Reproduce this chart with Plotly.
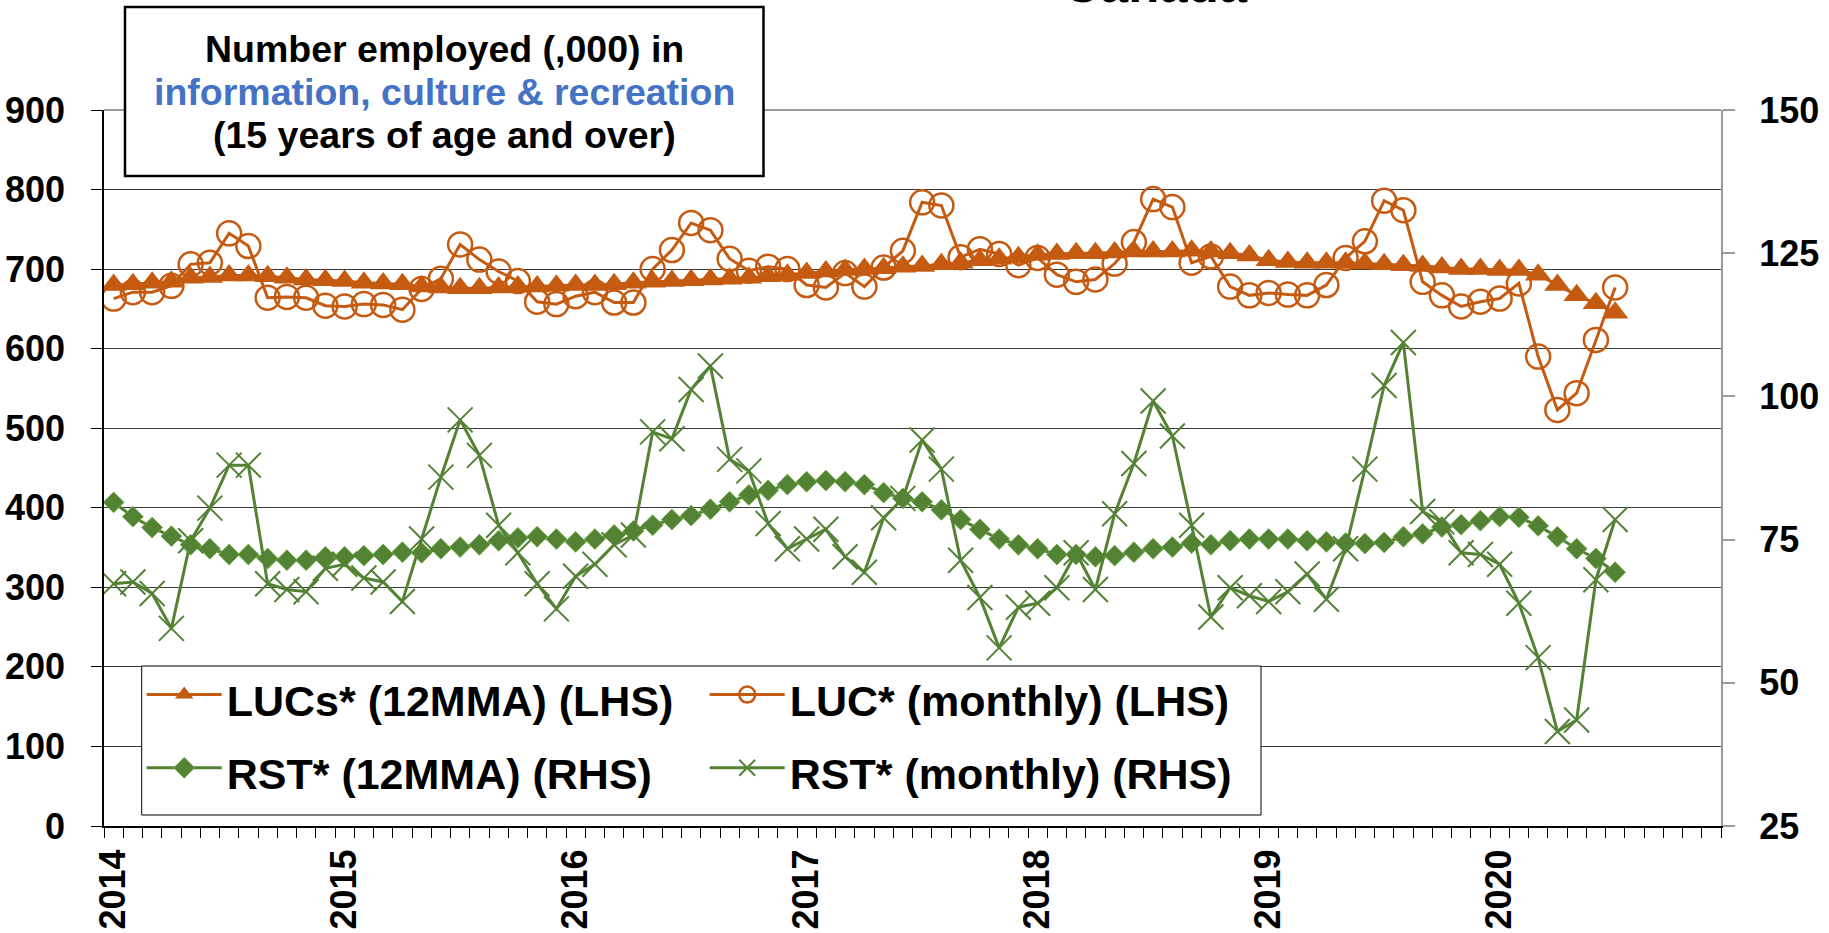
import pandas as pd
import plotly.graph_objects as go

# ---- data -------------------------------------------------------------
months = pd.period_range("2014-01", "2020-07", freq="M")
year_labels = ["2014", "2015", "2016", "2017", "2018", "2019", "2020"]

# LUCs* 12-month moving average (thousands, left axis)
luc_12mma = [
    680, 681, 683, 684, 689, 690, 692, 692, 691, 689, 687, 686,
    685, 683, 682, 681, 678, 677, 676, 676, 677, 678, 678, 679,
    680, 680, 681, 683, 684, 685, 686, 687, 688, 689, 691, 693,
    695, 697, 699, 700, 701, 703, 704, 706, 708, 711, 713, 715,
    718, 719, 720, 720, 721, 722, 722, 722, 723, 722, 720, 717,
    711, 709, 708, 708, 708, 707, 706, 705, 704, 702, 700, 700,
    699, 699, 693, 680, 667, 657, 645,
]
# LUC* monthly (thousands, left axis)
luc_monthly = [
    663, 671, 671, 679, 706, 708, 745, 729, 664, 665, 664, 654,
    653, 656, 655, 649, 675, 688, 731, 712, 697, 685, 659, 656,
    666, 671, 658, 658, 700, 724, 758, 749, 713, 698, 703, 700,
    680, 677, 695, 678, 702, 723, 784, 780, 715, 725, 719, 705,
    714, 693, 684, 687, 707, 734, 788, 778, 708, 716, 678, 667,
    670, 668, 667, 680, 714, 735, 786, 774, 684, 667, 653, 659,
    663, 682, 590, 523, 544, 611, 677,
]
# RST* 12-month moving average (thousands, right axis)
rst_12mma = [
    81.5, 79.0, 77.1, 75.6, 74.1, 73.4, 72.4, 72.4, 71.7, 71.4, 71.4, 72.0,
    72.0, 72.2, 72.4, 72.8, 72.7, 73.4, 73.7, 74.1, 74.8, 75.3, 75.5, 75.1,
    74.6, 75.1, 75.8, 76.5, 77.5, 78.5, 79.2, 80.3, 81.6, 82.8, 83.6, 84.6,
    85.1, 85.3, 85.1, 84.6, 83.2, 82.2, 81.6, 80.2, 78.5, 76.8, 75.1, 74.1,
    73.4, 72.4, 72.4, 72.0, 72.2, 72.8, 73.4, 73.7, 74.4, 74.1, 74.8, 75.1,
    75.1, 75.1, 74.8, 74.6, 74.4, 74.3, 74.5, 75.5, 76.0, 77.2, 77.6, 78.3,
    79.0, 78.9, 77.4, 75.5, 73.4, 71.7, 69.3,
]
# RST* monthly (thousands, right axis)
rst_monthly = [
    67.3, 67.6, 65.6, 59.5, 74.8, 80.5, 88.0, 88.0, 67.3, 66.3, 65.9, 70.0,
    70.7, 68.3, 67.6, 64.2, 75.1, 85.9, 95.9, 89.7, 77.5, 72.7, 67.3, 62.9,
    68.6, 70.7, 74.1, 75.8, 93.8, 92.6, 101.2, 105.3, 89.0, 87.0, 77.8, 73.4,
    75.1, 76.8, 72.0, 69.3, 78.8, 82.2, 92.4, 87.3, 71.4, 64.9, 56.1, 63.2,
    63.9, 66.6, 72.7, 66.3, 79.5, 88.3, 99.2, 93.1, 77.5, 61.5, 66.6, 65.2,
    64.2, 65.9, 69.0, 64.6, 73.4, 87.3, 101.9, 109.4, 79.9, 78.1, 72.7, 72.4,
    70.7, 63.9, 54.4, 41.5, 43.5, 68.0, 78.5,
]

# ---- positions on a monthly index axis (Jan 2014 = 0) --------------------
x = [(p.year - 2014) * 12 + p.month - 1 for p in months]
year_ticks = [(int(y) - 2014) * 12 for y in year_labels]

ORANGE = "#C55A11"
GREEN = "#548235"
FONT = "Liberation Sans, Arial, sans-serif"

# plot-area geometry (pixels) used to place boxes and text in paper units
W, H = 1829, 933
ML, MR, MT, MB = 104, 108, 110, 107
PW, PH = W - ML - MR, H - MT - MB


def px(xp):
    return (xp - ML) / PW


def py(yp):
    return (H - MB - yp) / PH


def legend_name(s):
    return f'<span style="font-size:43px">{s}</span>'


fig = go.Figure()

fig.add_trace(go.Scatter(
    x=x, y=luc_12mma, name=legend_name("LUCs* (12MMA) (LHS)"),
    mode="lines+markers",
    line=dict(color=ORANGE, width=3),
    marker=dict(symbol="triangle-up", size=23, color=ORANGE,
                line=dict(width=0)),
    yaxis="y",
))
fig.add_trace(go.Scatter(
    x=x, y=luc_monthly, name=legend_name("LUC* (monthly) (LHS)"),
    mode="lines+markers",
    line=dict(color=ORANGE, width=3),
    marker=dict(symbol="circle-open", size=24, color=ORANGE,
                line=dict(width=2.5, color=ORANGE)),
    yaxis="y",
))
fig.add_trace(go.Scatter(
    x=x, y=rst_12mma, name=legend_name("RST* (12MMA) (RHS)"),
    mode="lines+markers",
    line=dict(color=GREEN, width=3),
    marker=dict(symbol="diamond", size=16, color=GREEN,
                line=dict(width=1, color="#70AD47")),
    yaxis="y2",
))
fig.add_trace(go.Scatter(
    x=x, y=rst_monthly, name=legend_name("RST* (monthly) (RHS)"),
    mode="lines+markers",
    line=dict(color=GREEN, width=3),
    marker=dict(symbol="x-thin-open", size=25, color=GREEN,
                line=dict(width=2, color=GREEN)),
    yaxis="y2",
))

tick_font = dict(family=FONT, size=36, color="black", weight="bold")

fig.update_layout(
    width=W, height=H,
    margin=dict(l=ML, r=MR, t=MT, b=MB, pad=0, autoexpand=False),
    paper_bgcolor="white", plot_bgcolor="white",
    font=dict(family=FONT, color="black"),
    showlegend=True,
    xaxis=dict(
        range=[-0.5, 83.5], automargin=False,
        tickmode="array", tickvals=year_ticks, ticktext=year_labels,
        tickangle=-90, tickfont=tick_font,
        ticks="outside", ticklen=7, tickcolor="rgba(0,0,0,0)",
        ticklabelstandoff=0,
        showgrid=False, zeroline=False,
        showline=True, linecolor="black", linewidth=2,
        minor=dict(ticks="outside", ticklen=10, tickwidth=1,
                   tickcolor="black", tick0=-0.5, dtick=1, showgrid=False),
    ),
    yaxis=dict(
        range=[0, 900], tickmode="linear", tick0=0, dtick=100,
        automargin=False,
        tickfont=tick_font, ticks="outside", ticklen=11, tickcolor="black",
        ticklabelstandoff=19,
        showgrid=True, gridcolor="#3a3a3a", gridwidth=1,
        zeroline=False, showline=True, linecolor="black", linewidth=1.5,
    ),
    yaxis2=dict(
        range=[25, 150], tickmode="linear", tick0=25, dtick=25,
        overlaying="y", side="right", automargin=False,
        tickfont=tick_font, ticks="outside", ticklen=12, tickcolor="#9a9a9a",
        tickwidth=2, ticklabelstandoff=17,
        showgrid=False, zeroline=False,
        showline=True, linecolor="#9a9a9a", linewidth=2,
    ),
    legend=dict(
        orientation="h",
        x=px(141.7), xanchor="left",
        y=py(653), yanchor="top",
        bgcolor="rgba(0,0,0,0)", borderwidth=0,
        font=dict(family=FONT, size=54, color="black", weight="bold"),
        entrywidth=473, entrywidthmode="pixels",
        itemwidth=75, traceorder="normal",
    ),
)

# grey frame line along the top of the plot area
fig.add_shape(type="line", xref="paper", yref="paper",
              x0=0, x1=1, y0=1, y1=1,
              line=dict(color="#9a9a9a", width=2), layer="above")

# white framed panel behind the legend entries
fig.add_shape(type="rect", xref="paper", yref="paper",
              x0=px(141.7), x1=px(1261), y0=py(815), y1=py(666),
              line=dict(color="black", width=1), fillcolor="white",
              layer="above")

# framed title box at upper left
fig.add_shape(type="rect", xref="paper", yref="paper",
              x0=px(125), x1=px(763.5), y0=py(176), y1=py(7),
              line=dict(color="black", width=2.5), fillcolor="white",
              layer="above")

title_lines = [
    ("Number employed (,000) in", "black", 49.5),
    ("information, culture &amp; recreation", "#4472C4", 92),
    ("(15 years of age and over)", "black", 135),
]
for text, color, yc in title_lines:
    fig.add_annotation(
        xref="paper", yref="paper", x=px(444), y=py(yc),
        xanchor="center", yanchor="middle", showarrow=False,
        text=text,
        font=dict(family=FONT, size=37.5, color=color, weight="bold"),
    )

# chart heading, mostly above the visible page
fig.add_annotation(
    xref="paper", yref="paper", x=px(1155), y=py(15.5),
    xanchor="center", yanchor="bottom", showarrow=False,
    text="Canada",
    font=dict(family=FONT, size=51, color="black", weight="bold"),
)

fig.write_html("out.html")
